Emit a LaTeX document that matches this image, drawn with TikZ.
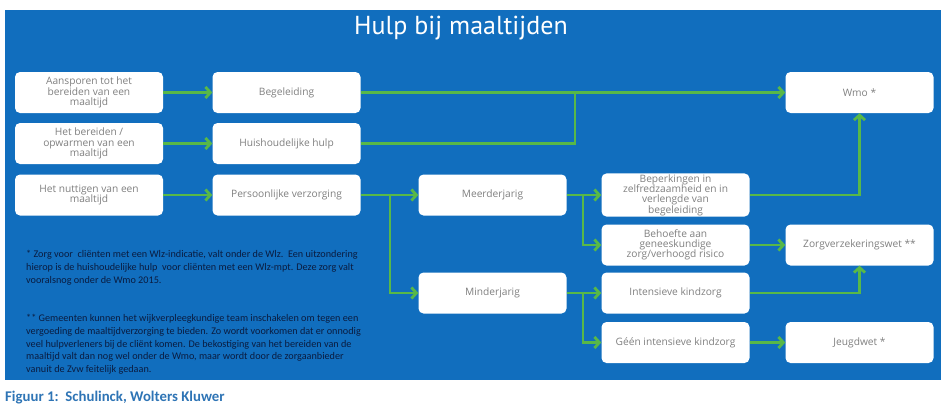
\documentclass[tikz,border=0pt]{standalone}
\usepackage{fontspec}
\setmainfont{Open Sans}
\newfontfamily\titlefont{PT Sans}
\newfontfamily\notefont{Carlito}
\usetikzlibrary{arrows.meta}
\definecolor{panelblue}{RGB}{17,110,190}
\definecolor{arrowgreen}{RGB}{88,184,72}
\definecolor{boxtext}{RGB}{128,128,128}
\definecolor{notetext}{RGB}{10,28,64}
\definecolor{captionblue}{RGB}{46,116,181}

\begin{document}
\begin{tikzpicture}[x=1pt, y=-1pt,
    box/.style = {shape=rectangle, rounded corners=5pt, fill=white,
      align=center, text=boxtext, minimum width=148pt, minimum height=41pt,
      inner sep=1pt, font=\fontsize{10.2}{10.3}\selectfont},
    flow/.style = {draw=arrowgreen, line width=2.8pt,
      -{Straight Barb[length=5pt,width=11pt]}},
    link/.style = {draw=arrowgreen, line width=2.8pt},
    note/.style = {align=left, anchor=north west, inner sep=0pt,
      text=notetext, font=\notefont\fontsize{10.2}{12.7}\selectfont}]
  \useasboundingbox (0,0) rectangle (951,410);
  \fill[panelblue] (5,10) rectangle (941,380);
  \node[anchor=base, text=white, font=\titlefont\fontsize{26}{26}\selectfont] (title)
    at (461,34) {Hulp bij maaltijden};

  \node[box] (aansp) at (89,92.5) {Aansporen tot het\\ bereiden van een\\ maaltijd};
  \node[box] (bereid) at (89,143.5) {Het bereiden /\\ opwarmen van een\\ maaltijd};
  \node[box] (nutt) at (89,195) {Het nuttigen van een\\ maaltijd};
  \node[box] (begel) at (286.5,92.5) {Begeleiding};
  \node[box] (huish) at (286.5,143.5) {Huishoudelijke hulp};
  \node[box] (verz) at (286.5,195) {Persoonlijke verzorging};
  \node[box] (meer) at (492.5,195) {Meerderjarig};
  \node[box] (minder) at (492.5,293) {Minderjarig};
  \node[box] (beperk) at (675.5,195) {Beperkingen in\\ zelfredzaamheid en in\\ verlengde van\\ begeleiding};
  \node[box] (behoef) at (675.5,245) {Behoefte aan\\ geneeskundige\\ zorg/verhoogd risico};
  \node[box] (intens) at (675.5,293) {Intensieve kindzorg};
  \node[box] (geen) at (675.5,342.5) {Géén intensieve kindzorg};
  \node[box] (wmo) at (859.5,92.5) {Wmo *};
  \node[box] (zvw) at (859.5,245) {Zorgverzekeringswet **};
  \node[box] (jeugd) at (859.5,342.5) {Jeugdwet *};

  \coordinate (join) at (575,92.5);
  \coordinate (split1) at (390,195);
  \coordinate (split2) at (583,195);
  \coordinate (split3) at (583,293);

  \draw[flow] (aansp) -- (begel);
  \draw[flow] (bereid) -- (huish);
  \draw[flow] (nutt) -- (verz);
  \draw[flow] (begel) -- (wmo);
  \draw[link] (huish.east) -| (join);
  \draw[flow] (verz) -- (meer);
  \draw[flow] (split1) |- (minder.west);
  \draw[flow] (meer) -- (beperk);
  \draw[flow] (split2) |- (behoef.west);
  \draw[flow] (minder) -- (intens);
  \draw[flow] (split3) |- (geen.west);
  \draw[flow] (beperk.east) -| (wmo.south);
  \draw[flow] (behoef) -- (zvw);
  \draw[flow] (intens.east) -| (zvw.south);
  \draw[flow] (geen) -- (jeugd);

  \node[note] (note1) at (26,250.5) {* Zorg voor\ \ cliënten met een Wlz-indicatie, valt onder de Wlz.\ \ Een uitzondering\\
    hierop is de huishoudelijke hulp\ \ voor cliënten met een Wlz-mpt. Deze zorg valt\\
    vooralsnog onder de Wmo 2015.};
  \node[note] (note2) at (26,314.3) {** Gemeenten kunnen het wijkverpleegkundige team inschakelen om tegen een\\
    vergoeding de maaltijdverzorging te bieden. Zo wordt voorkomen dat er onnodig\\
    veel hulpverleners bij de cliënt komen. De bekostiging van het bereiden van de\\
    maaltijd valt dan nog wel onder de Wmo, maar wordt door de zorgaanbieder\\
    vanuit de Zvw feitelijk gedaan.};
  \node[anchor=west, inner sep=0pt, text=captionblue,
    font=\notefont\bfseries\fontsize{14.8}{16}\selectfont] (caption)
    at (5,398) {Figuur 1:\ \ Schulinck, Wolters Kluwer};
\end{tikzpicture}
\end{document}
